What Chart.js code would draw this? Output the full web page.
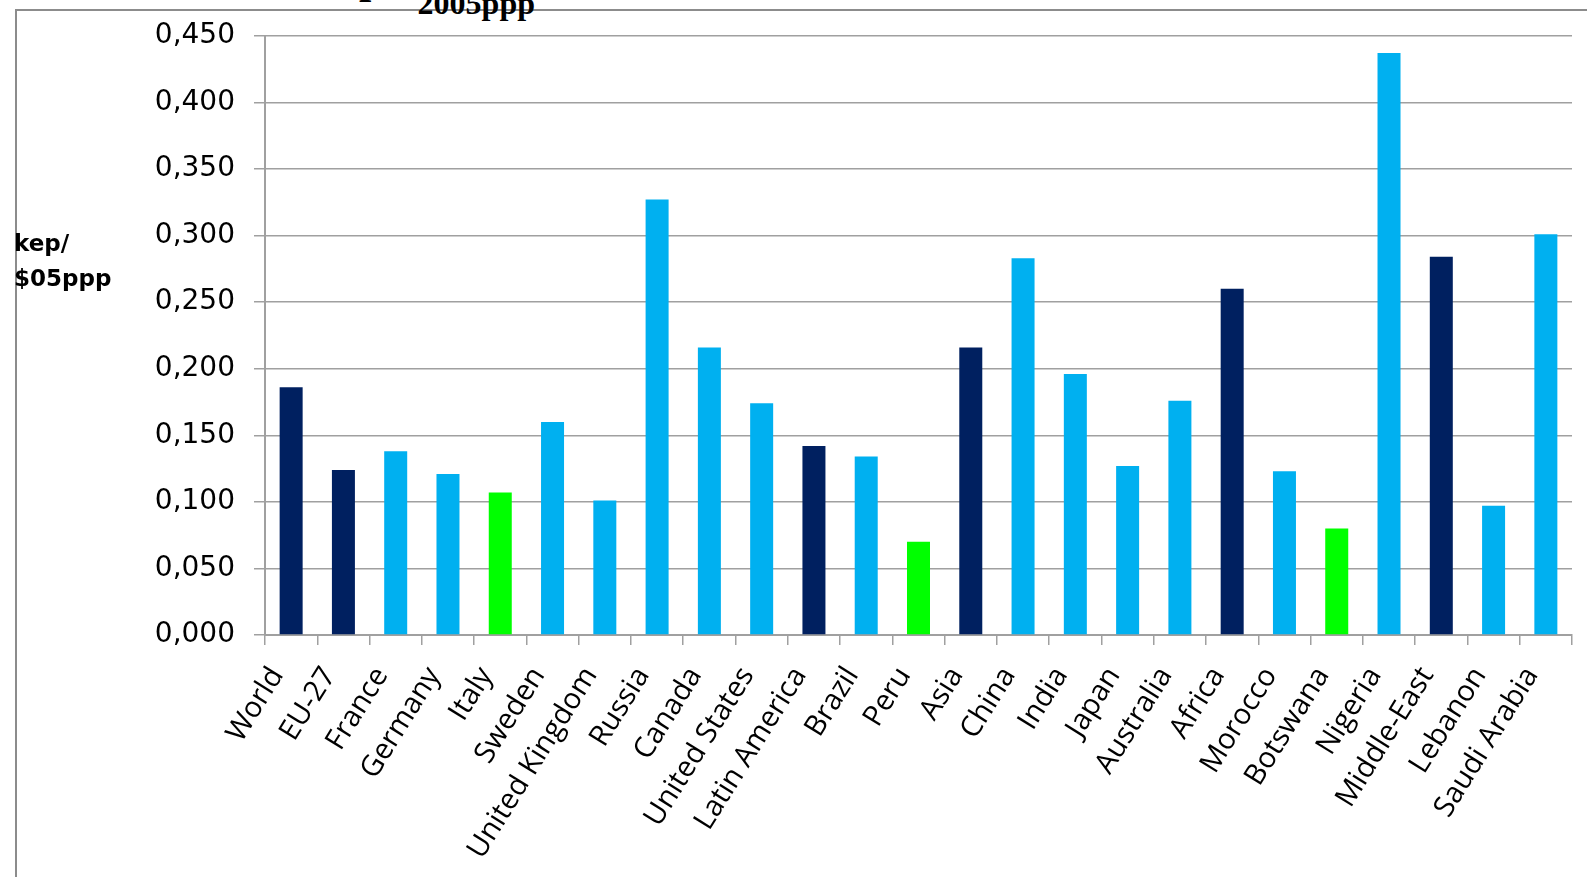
<!DOCTYPE html>
<html>
<head>
<meta charset="utf-8">
<title>Energy intensity</title>
<script src="https://cdn.jsdelivr.net/npm/chart.js"></script>
<style>
  html, body { margin: 0; padding: 0; background: #fff; overflow: hidden; }
  #wrap { position: relative; width: 1587px; height: 877px; }
  #frame {
    position: absolute; left: 15px; top: 9px; right: -10px; bottom: -10px;
    border-left: 2px solid #8c8c8c; border-top: 2px solid #8c8c8c;
  }
  #title {
    position: absolute; right: 1052px; top: -43px; white-space: nowrap;
    font: bold 44px "Liberation Serif", serif; line-height: 44px; color: #000;
  }
  #title span { font-size: 32px; position: relative; top: 21px; }
  #unit {
    position: absolute; left: 14px; top: 226px;
    font: bold 23px "DejaVu Sans", sans-serif; line-height: 35px; color: #000;
  }
  #box { position: absolute; left: 0; top: 0; width: 1587px; height: 877px; }
</style>
</head>
<body>
<div id="wrap">
  <div id="frame"></div>
  <div id="title">Intensities 2010, in kep/$<span>2005ppp</span></div>
  <div id="box"><canvas id="chart"></canvas></div>
  <div id="unit">kep/<br>$05ppp</div>
</div>
<script>
// categories and values
const countries = ['World', 'EU-27', 'France', 'Germany', 'Italy', 'Sweden', 'United Kingdom',
  'Russia', 'Canada', 'United States', 'Latin America', 'Brazil', 'Peru', 'Asia', 'China',
  'India', 'Japan', 'Australia', 'Africa', 'Morocco', 'Botswana', 'Nigeria', 'Middle-East',
  'Lebanon', 'Saudi Arabia'];
const intensity = [0.186, 0.124, 0.138, 0.121, 0.107, 0.160, 0.101,
  0.327, 0.216, 0.174, 0.142, 0.134, 0.070, 0.216, 0.283,
  0.196, 0.127, 0.176, 0.260, 0.123, 0.080, 0.437, 0.284,
  0.097, 0.301];
// region = aggregate, country = single country, focus = highlighted
const kind = ['region', 'region', 'country', 'country', 'focus', 'country', 'country',
  'country', 'country', 'country', 'region', 'country', 'focus', 'region', 'country',
  'country', 'country', 'country', 'region', 'country', 'focus', 'country', 'region',
  'country', 'country'];
const yTicks = [0, 0.05, 0.10, 0.15, 0.20, 0.25, 0.30, 0.35, 0.40, 0.45];

const kindColors = { region: '#002060', country: '#00B0F0', focus: '#00FF00' };
const gridGray = '#a0a0a0';

new Chart(document.getElementById('chart'), {
  type: 'bar',
  data: {
    labels: countries,
    datasets: [{
      data: intensity,
      backgroundColor: kind.map(k => kindColors[k]),
      borderWidth: 0,
      barPercentage: 0.44,
      categoryPercentage: 1
    }]
  },
  options: {
    responsive: true,
    maintainAspectRatio: false,
    animation: false,
    layout: { padding: { top: 32, right: 15, left: 0, bottom: 0 } },
    plugins: { legend: { display: false }, tooltip: { enabled: false } },
    scales: {
      x: {
        offset: true,
        grid: { offset: true, drawOnChartArea: false, drawTicks: true, tickLength: 10, color: gridGray, lineWidth: 1.5 },
        border: { display: true, color: gridGray, width: 2 },
        ticks: {
          color: '#000',
          font: { family: 'Open Sans', size: 29 },
          minRotation: 58,
          maxRotation: 58,
          autoSkip: false,
          padding: 16,
          labelOffset: -14
        },
        afterFit: s => {
          s.height = 877 - 635;
          s.paddingLeft = 0;
          s.paddingRight = 0;
        }
      },
      y: {
        min: 0,
        max: 0.45,
        afterBuildTicks: s => { s.ticks = yTicks.map(v => ({ value: v })); },
        grid: { color: gridGray, lineWidth: 1.5, drawTicks: true, tickLength: 11 },
        border: { display: true, color: gridGray, width: 2 },
        ticks: {
          color: '#000',
          font: { family: 'DejaVu Sans', size: 28 },
          padding: 19,
          callback: v => v.toFixed(3).replace('.', ',')
        },
        afterFit: s => { s.width = 265; }
      }
    }
  }
});
</script>
</body>
</html>
